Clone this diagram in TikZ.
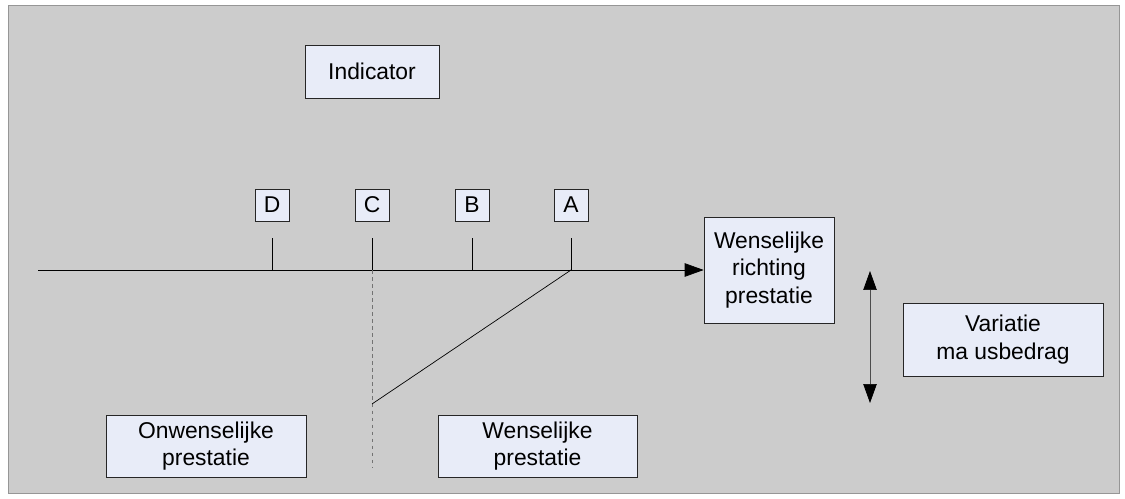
\documentclass[tikz,border=0pt]{standalone}
\usepackage{fontspec}
\setmainfont{Liberation Sans}
\usepackage{tikz}
\usetikzlibrary{arrows.meta}
\definecolor{achter}{RGB}{204,204,204}
\definecolor{vak}{RGB}{232,236,248}
\definecolor{rand}{RGB}{150,150,150}

\begin{document}
\begin{tikzpicture}[x=0.02cm, y=-0.02cm, font=\fontsize{13}{15.5}\selectfont,
  vakje/.style={draw=black!85, fill=vak, inner sep=0pt, align=center},
  punt/.style={-{Triangle[length=0.38cm, width=0.27cm]}}]
  % Achtergrond en kader.
  \useasboundingbox (0,0) rectangle (1125,499);
  \fill[achter, draw=rand] (8,5) rectangle (1119,493);
  % De vakjes met tekst.
  \node[vakje, minimum width=2.68cm, minimum height=1.06cm] (indicator) at (372,71.5) {Indicator};
  \node[vakje, minimum width=2.6cm, minimum height=2.12cm] (richting) at (769,270)
    {Wenselijke\\richting\\prestatie};
  \node[vakje, minimum width=4cm, minimum height=1.46cm] (variatie) at (1003,339.5)
    {Variatie\\ma usbedrag};
  \node[vakje, minimum width=4cm, minimum height=1.24cm] (onwens) at (206,446)
    {Onwenselijke\\prestatie};
  \node[vakje, minimum width=3.98cm, minimum height=1.24cm] (wens) at (537.5,446)
    {Wenselijke\\prestatie};
  % De as met de meetpunten.
  \coordinate (begin) at (38,270);
  \draw[punt] (begin) -- (richting.west);
  \foreach \n/\x in {D/272,C/372,B/472,A/571} {
    \node[vakje, minimum width=0.68cm, minimum height=0.64cm] (p\n) at (\x,205) {\n};
    \coordinate (v\n) at (\x,270);
    \draw (v\n) -- ++(0,-32);
  }
  % Scheiding en schuine lijn.
  \coordinate (onder) at (372,467);
  \coordinate (knik) at (372,404);
  \draw[black!55, dash pattern=on 2pt off 2pt] (vC) -- (onder);
  \draw (vA) -- (knik);
  % De variatie.
  \coordinate (boven) at (870,271);
  \coordinate (beneden) at (870,403);
  \draw[black!70, {Triangle[length=0.38cm, width=0.27cm, black]}-{Triangle[length=0.38cm, width=0.27cm, black]}]
    (boven) -- (beneden);
\end{tikzpicture}
\end{document}
